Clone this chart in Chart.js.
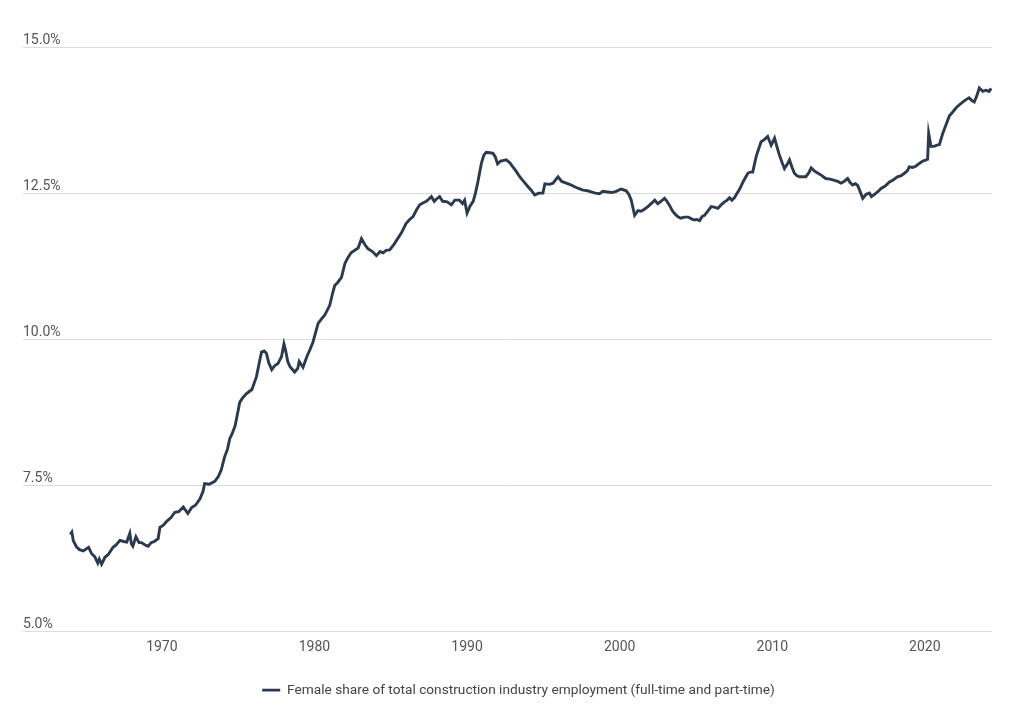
<!DOCTYPE html>
<html>
<head>
<meta charset="utf-8">
<script src="https://cdn.jsdelivr.net/npm/chart.js@4"></script>
<style>
  html, body { margin: 0; padding: 0; background: #ffffff; }
  #wrap { width: 1024px; height: 715px; }
</style>
</head>
<body>
<div id="wrap"><canvas id="grafico" width="1024" height="715"></canvas></div>
<script>
// fechas en años decimales
var fechas = [
  1964.0, 1964.1, 1964.2, 1964.4, 1964.6, 1964.85, 1965.2, 1965.4, 1965.6, 1965.8,
  1965.9, 1966.05, 1966.27, 1966.5, 1966.8, 1967.0, 1967.25, 1967.5, 1967.7, 1967.9,
  1968.0, 1968.1, 1968.3, 1968.5, 1968.67, 1968.9, 1969.1, 1969.3, 1969.5, 1969.76,
  1969.87, 1970.1, 1970.3, 1970.6, 1970.85, 1971.1, 1971.4, 1971.7, 1971.95, 1972.2,
  1972.5, 1972.7, 1972.8, 1973.1, 1973.47, 1973.7, 1973.9, 1974.1, 1974.3, 1974.45,
  1974.6, 1974.8, 1975.0, 1975.1, 1975.3, 1975.55, 1975.9, 1976.2, 1976.4, 1976.53,
  1976.7, 1976.85, 1977.0, 1977.2, 1977.4, 1977.6, 1977.84, 1978.0, 1978.1, 1978.25,
  1978.4, 1978.7, 1978.9, 1979.0, 1979.25, 1979.5, 1979.7, 1979.9, 1980.24, 1980.5,
  1980.67, 1981.0, 1981.2, 1981.33, 1981.55, 1981.77, 1982.0, 1982.2, 1982.4, 1982.86,
  1983.08, 1983.3, 1983.5, 1983.8, 1984.06, 1984.3, 1984.5, 1984.7, 1984.93, 1985.2,
  1985.4, 1985.7, 1986.0, 1986.24, 1986.46, 1986.7, 1986.9, 1987.1, 1987.33, 1987.5,
  1987.66, 1987.85, 1988.0, 1988.2, 1988.4, 1988.7, 1988.97, 1989.2, 1989.5, 1989.7,
  1989.84, 1990.0, 1990.2, 1990.4, 1990.55, 1990.7, 1990.94, 1991.1, 1991.26, 1991.5,
  1991.7, 1991.85, 1992.0, 1992.2, 1992.57, 1992.8, 1993.0, 1993.2, 1993.45, 1993.7,
  1994.0, 1994.2, 1994.43, 1994.7, 1994.97, 1995.1, 1995.4, 1995.63, 1995.96, 1996.2,
  1996.5, 1996.8, 1997.05, 1997.3, 1997.6, 1997.9, 1998.14, 1998.4, 1998.68, 1998.9,
  1999.2, 1999.5, 1999.77, 2000.1, 2000.43, 2000.6, 2000.76, 2000.98, 2001.2, 2001.4,
  2001.6, 2001.85, 2002.1, 2002.3, 2002.5, 2002.7, 2002.94, 2003.1, 2003.27, 2003.45,
  2003.6, 2003.8, 2004.0, 2004.25, 2004.5, 2004.7, 2004.9, 2005.05, 2005.24, 2005.4,
  2005.56, 2005.8, 2006.0, 2006.2, 2006.44, 2006.65, 2006.87, 2007.05, 2007.2, 2007.35,
  2007.52, 2007.7, 2007.85, 2008.1, 2008.4, 2008.55, 2008.72, 2008.94, 2009.1, 2009.27,
  2009.5, 2009.7, 2009.93, 2010.15, 2010.3, 2010.47, 2010.65, 2010.8, 2011.0, 2011.13,
  2011.3, 2011.45, 2011.6, 2011.78, 2012.0, 2012.2, 2012.4, 2012.55, 2012.75, 2013.0,
  2013.25, 2013.5, 2013.8, 2014.07, 2014.3, 2014.5, 2014.7, 2014.94, 2015.1, 2015.27,
  2015.45, 2015.6, 2015.8, 2015.93, 2016.15, 2016.37, 2016.5, 2016.7, 2016.9, 2017.13,
  2017.4, 2017.68, 2017.9, 2018.2, 2018.45, 2018.66, 2018.85, 2018.98, 2019.2, 2019.4,
  2019.6, 2019.86, 2020.0, 2020.18, 2020.25, 2020.4, 2020.6, 2020.8, 2020.95, 2021.17,
  2021.4, 2021.6, 2021.8, 2022.05, 2022.3, 2022.5, 2022.7, 2022.9, 2023.1, 2023.24,
  2023.4, 2023.57, 2023.8, 2024.0, 2024.2, 2024.35
];

// porcentaje de mujeres en el empleo total de construcción
var porcentajes = [
  6.66, 6.70, 6.55, 6.45, 6.40, 6.38, 6.44, 6.33, 6.28, 6.17,
  6.24, 6.15, 6.27, 6.32, 6.44, 6.48, 6.56, 6.54, 6.53, 6.68,
  6.50, 6.46, 6.62, 6.52, 6.52, 6.48, 6.46, 6.52, 6.54, 6.59,
  6.78, 6.82, 6.88, 6.95, 7.04, 7.05, 7.13, 7.02, 7.12, 7.16,
  7.27, 7.40, 7.53, 7.52, 7.57, 7.65, 7.77, 7.98, 8.12, 8.30,
  8.38, 8.52, 8.78, 8.92, 9.00, 9.07, 9.14, 9.36, 9.62, 9.78,
  9.80, 9.76, 9.60, 9.48, 9.55, 9.58, 9.70, 9.92, 9.82, 9.62,
  9.53, 9.44, 9.50, 9.62, 9.52, 9.70, 9.82, 9.95, 10.27, 10.36,
  10.41, 10.58, 10.80, 10.92, 10.98, 11.06, 11.30, 11.40, 11.48, 11.56,
  11.72, 11.62, 11.55, 11.50, 11.43, 11.50, 11.48, 11.52, 11.53, 11.62,
  11.70, 11.82, 11.98, 12.05, 12.10, 12.22, 12.30, 12.33, 12.36, 12.40,
  12.44, 12.36, 12.40, 12.44, 12.36, 12.35, 12.30, 12.38, 12.38, 12.32,
  12.38, 12.16, 12.28, 12.36, 12.50, 12.68, 13.01, 13.15, 13.20, 13.19,
  13.18, 13.12, 13.00, 13.05, 13.07, 13.02, 12.95, 12.88, 12.78, 12.70,
  12.61, 12.55, 12.47, 12.50, 12.50, 12.66, 12.65, 12.67, 12.78, 12.70,
  12.67, 12.64, 12.61, 12.58, 12.55, 12.54, 12.52, 12.50, 12.49, 12.53,
  12.52, 12.51, 12.53, 12.57, 12.54, 12.48, 12.38, 12.12, 12.20, 12.19,
  12.22, 12.27, 12.33, 12.38, 12.32, 12.36, 12.41, 12.36, 12.29, 12.20,
  12.15, 12.10, 12.07, 12.09, 12.09, 12.06, 12.04, 12.05, 12.03, 12.10,
  12.12, 12.20, 12.27, 12.26, 12.24, 12.30, 12.35, 12.38, 12.42, 12.38,
  12.42, 12.50, 12.56, 12.70, 12.84, 12.86, 12.86, 13.12, 13.25, 13.38,
  13.42, 13.47, 13.32, 13.44, 13.30, 13.15, 13.02, 12.92, 13.00, 13.07,
  12.94, 12.84, 12.80, 12.78, 12.78, 12.78, 12.85, 12.93, 12.88, 12.84,
  12.80, 12.75, 12.74, 12.72, 12.70, 12.67, 12.70, 12.75, 12.68, 12.64,
  12.66, 12.63, 12.50, 12.41, 12.48, 12.50, 12.44, 12.48, 12.52, 12.58,
  12.62, 12.69, 12.72, 12.78, 12.80, 12.84, 12.88, 12.95, 12.94, 12.96,
  13.00, 13.05, 13.06, 13.08, 13.52, 13.30, 13.30, 13.32, 13.33, 13.52,
  13.68, 13.82, 13.88, 13.96, 14.02, 14.06, 14.10, 14.13, 14.08, 14.06,
  14.16, 14.30, 14.24, 14.26, 14.24, 14.29
];

var etiquetasX = [1970, 1980, 1990, 2000, 2010, 2020];
var etiquetasY = [5, 7.5, 10, 12.5, 15];
var nombreSerie = 'Female share of total construction industry employment (full-time and part-time)';

var puntos = [];
for (var i = 0; i < fechas.length; i++) {
    puntos.push({ x: fechas[i], y: porcentajes[i] });
}

Chart.defaults.font.family = 'Roboto';
Chart.defaults.font.size = 14;

// mueve la leyenda unos px a la derecha, como en el original
var moverLeyenda = {
    id: 'moverLeyenda',
    afterUpdate: function (c) {
        c.legend.left += 11;
        c.legend.right += 11;
    }
};

var ctx = document.getElementById('grafico').getContext('2d');
var chart = new Chart(ctx, {
    type: 'line',
    data: {
        datasets: [{
            label: nombreSerie,
            data: puntos,
            borderColor: '#2b3a4c',
            backgroundColor: '#2b3a4c',
            borderWidth: 2.9,
            pointRadius: 0,
            tension: 0,
            fill: false
        }]
    },
    options: {
        responsive: false,
        animation: false,
        layout: { padding: { left: 23, right: 32, top: 47, bottom: 8 } },
        plugins: {
            tooltip: { enabled: false },
            legend: {
                display: true,
                position: 'bottom',
                labels: {
                    color: '#444444',
                    usePointStyle: true,
                    pointStyle: 'line',
                    pointStyleWidth: 18,
                    boxHeight: 13,
                    padding: 20,
                    font: { size: 13.7 }
                }
            }
        },
        scales: {
            x: {
                type: 'linear',
                min: 1960.9,
                max: 2024.4,
                grid: { display: false },
                border: { display: false },
                afterBuildTicks: function (eje) {
                    eje.ticks = etiquetasX.map(function (v) { return { value: v }; });
                },
                afterFit: function (eje) { eje.height += 7; },
                ticks: {
                    color: '#555555',
                    padding: 0,
                    maxRotation: 0,
                    callback: function (v) { return String(v); }
                }
            },
            y: {
                min: 5,
                max: 15,
                grid: { color: '#dcdcdc', lineWidth: 1, drawTicks: false },
                border: { display: false },
                afterBuildTicks: function (eje) {
                    eje.ticks = etiquetasY.map(function (v) { return { value: v }; });
                },
                ticks: {
                    color: '#555555',
                    mirror: true,
                    padding: 0,
                    labelOffset: -7,
                    callback: function (v) { return v.toFixed(1) + '%'; }
                }
            }
        }
    },
    plugins: [moverLeyenda]
});
</script>
</body>
</html>
